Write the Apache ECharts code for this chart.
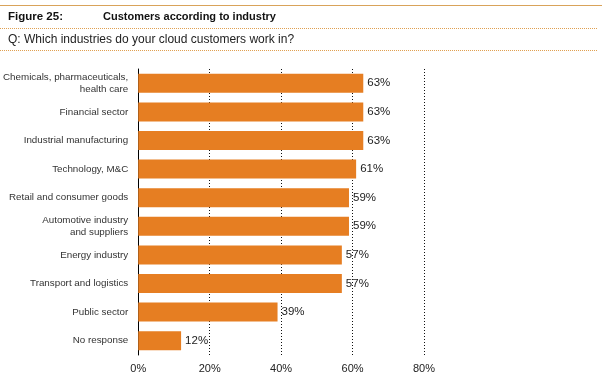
<!DOCTYPE html>
<html><head><meta charset="utf-8">
<script src="https://cdn.jsdelivr.net/npm/echarts@6/dist/echarts.min.js"></script>
<style>html,body{margin:0;padding:0;background:#fff}#c{width:608px;height:379px}</style>
</head><body><div id="c"></div>
<script>
const categories = [
  "Chemicals, pharmaceuticals,\nhealth care",
  "Financial sector",
  "Industrial manufacturing",
  "Technology, M&C",
  "Retail and consumer goods",
  "Automotive industry\nand suppliers",
  "Energy industry",
  "Transport and logistics",
  "Public sector",
  "No response"
];
const values = [63, 63, 63, 61, 59, 59, 57, 57, 39, 12];
const xTicks = [0, 20, 40, 60, 80];
const figureLabel = "Figure 25:";
const title = "Customers according to industry";
const question = "Q: Which industries do your cloud customers work in?";

const font = "Liberation Sans, Arial, Helvetica, sans-serif";
const chart = echarts.init(document.getElementById('c'), null, {renderer: 'canvas'});
chart.setOption({
  animation: false,
  backgroundColor: '#fff',
  grid: {left: 138, right: 184, top: 69, height: 286, containLabel: false},
  xAxis: {
    type: 'value', min: xTicks[0], max: xTicks[xTicks.length - 1], interval: xTicks[1] - xTicks[0],
    axisLine: {show: false}, axisTick: {show: false},
    axisLabel: {formatter: v => v + '%', color: '#222', fontSize: 11, fontFamily: font, margin: 8},
    splitLine: {show: true, lineStyle: {color: '#111', type: [1, 2], width: 1}}
  },
  yAxis: {
    type: 'category', data: categories, inverse: true,
    axisLine: {show: true, lineStyle: {color: '#000', width: 1}},
    axisTick: {show: false},
    axisLabel: {color: '#333', fontSize: 9.8, fontFamily: font, margin: 10, align: 'right', lineHeight: 12}
  },
  series: [{
    type: 'bar', data: values, barWidth: 19,
    itemStyle: {color: '#E67E22'},
    label: {show: true, position: 'right', distance: 4, formatter: p => p.value + '%', color: '#222', fontSize: 11.5, fontFamily: font}
  }],
  graphic: [
    {type: 'line', shape: {x1: 0, y1: 5.5, x2: 602, y2: 5.5}, style: {stroke: '#D9A35A', lineWidth: 1}},
    {type: 'text', x: 8, y: 17, style: {text: figureLabel, fontFamily: font, fontWeight: 'bold', fontSize: 11.5, fill: '#111', textVerticalAlign: 'middle'}},
    {type: 'text', x: 103, y: 17, style: {text: title, fontFamily: font, fontWeight: 'bold', fontSize: 11, fill: '#111', textVerticalAlign: 'middle'}},
    {type: 'line', shape: {x1: 0, y1: 28.5, x2: 598, y2: 28.5}, style: {stroke: '#E0A050', lineWidth: 1, lineDash: [1, 1]}},
    {type: 'text', x: 8, y: 40, style: {text: question, fontFamily: font, fontSize: 12, fill: '#222', textVerticalAlign: 'middle'}},
    {type: 'line', shape: {x1: 0, y1: 50.5, x2: 598, y2: 50.5}, style: {stroke: '#E0A050', lineWidth: 1, lineDash: [1, 1]}}
  ]
});
</script></body></html>
